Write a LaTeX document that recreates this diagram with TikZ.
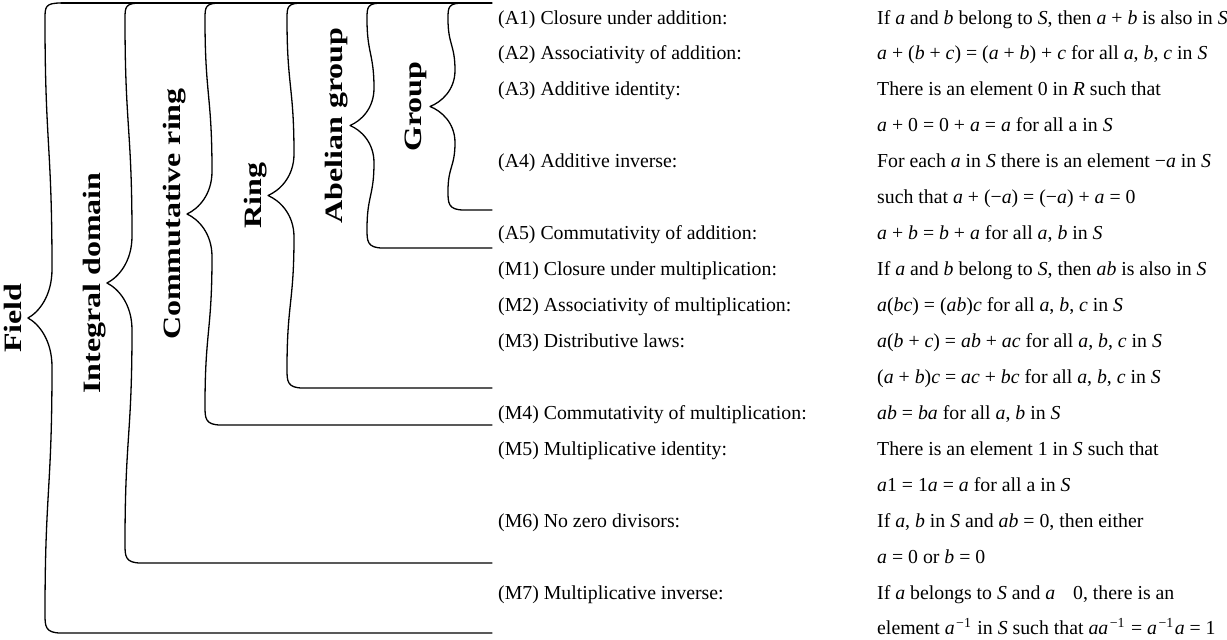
\documentclass[tikz,border=0pt]{standalone}
\usepackage{fontspec}
\setmainfont{Liberation Serif}
\usetikzlibrary{calc}

% italic variable, operator, inverse exponent
\newcommand\vi[1]{\textit{#1}}
\newcommand\op[1]{#1}
\newcommand\inv{\kern1.5pt\textsuperscript{−1}\kern1pt}
\newcommand\rowy[1]{24+35.94*#1}

% curly brace hanging from the top rule: spine x, bottom y, tip x, tip name
\newcommand\axbrace[4]{%
  \pgfmathsetmacro\bm{(3+#2)/2}%
  \pgfmathsetmacro\ba{30+0.06*(\bm-3)}%
  \pgfmathsetmacro\bq{#1+7}%
  \pgfmathsetmacro\bk{#3+0.45*(\bq-#3)}%
  \draw[bl] (#1+16,3) .. controls (#1,3) and (#1,7) .. (#1,19)
    .. controls (#1,{19+0.5*(\bm-\ba-19)}) and (\bq,{\bm-\ba-0.5*(\bm-\ba-19)}) .. (\bq,{\bm-\ba})
    .. controls (\bq,{\bm-0.45*\ba}) and (\bk,{\bm-0.12*\ba}) .. (#3,\bm) coordinate (#4)
    .. controls (\bk,{\bm+0.12*\ba}) and (\bq,{\bm+0.45*\ba}) .. (\bq,{\bm+\ba})
    .. controls (\bq,{\bm+\ba+0.5*(#2-19-\bm-\ba)}) and (#1,{#2-19-0.5*(#2-19-\bm-\ba)}) .. (#1,#2-19)
    .. controls (#1,#2-7) and (#1,#2) .. (#1+16,#2) -- (492,#2);
}

\begin{document}
\begin{tikzpicture}[x=1pt,y=-1pt,
  bl/.style={line width=1.3pt, line join=round, line cap=round},
  lab/.style={rotate=90, anchor=base, inner sep=0pt,
              font=\fontsize{25}{30}\selectfont\bfseries},
  ax/.style={anchor=base west, inner sep=0pt,
             font=\fontsize{19.8}{24}\selectfont},
]
\fill[white] (0,0) rectangle (1227,640);
\useasboundingbox (0,0) rectangle (1227,640);

% shared top rule
\draw[bl] (61,3) -- (492,3);

% nested structures
\axbrace{45}{633}{28}{tF}
\axbrace{125}{563}{107}{tI}
\axbrace{205}{425}{187}{tC}
\axbrace{287}{388}{268}{tR}
\axbrace{367}{248}{350}{tA}
\axbrace{448}{210}{430}{tG}

\node[lab] (lF) at ([xshift=-7pt]tF) {\scalebox{1.28}[1]{Field}};
\node[lab] (lI) at ([xshift=-7pt]tI) {\scalebox{1.28}[1]{Integral domain}};
\node[lab] (lC) at ([xshift=-7pt]tC) {\scalebox{1.28}[1]{Commutative ring}};
\node[lab] (lR) at ([xshift=-7pt]tR) {\scalebox{1.28}[1]{Ring}};
\node[lab] (lA) at ([xshift=-8pt]tA) {\scalebox{1.28}[1]{Abelian group}};
\node[lab] (lG) at ([xshift=-9pt]tG) {\scalebox{1.28}[1]{Group}};

% axiom names
\node[ax] (A1) at (498,{\rowy{0}})  {(A1) Closure under addition:};
\node[ax] (A2) at (498,{\rowy{1}})  {(A2) Associativity of addition:};
\node[ax] (A3) at (498,{\rowy{2}})  {(A3) Additive identity:};
\node[ax] (A4) at (498,{\rowy{4}})  {(A4) Additive inverse:};
\node[ax] (A5) at (498,{\rowy{6}})  {(A5) Commutativity of addition:};
\node[ax] (M1) at (498,{\rowy{7}})  {(M1) Closure under multiplication:};
\node[ax] (M2) at (498,{\rowy{8}})  {(M2) Associativity of multiplication:};
\node[ax] (M3) at (498,{\rowy{9}})  {(M3) Distributive laws:};
\node[ax] (M4) at (498,{\rowy{11}}) {(M4) Commutativity of multiplication:};
\node[ax] (M5) at (498,{\rowy{12}}) {(M5) Multiplicative identity:};
\node[ax] (M6) at (498,{\rowy{14}}) {(M6) No zero divisors:};
\node[ax] (M7) at (498,{\rowy{16}}) {(M7) Multiplicative inverse:};

% axiom statements
\node[ax] (r0)  at (877,{\rowy{0}})  {If \vi{a} and \vi{b} belong to \vi{S}, then \vi{a} \op{+} \vi{b} is also in \vi{S}};
\node[ax] (r1)  at (877,{\rowy{1}})  {\vi{a} \op{+} (\vi{b} \op{+} \vi{c}) \op{=} (\vi{a} \op{+} \vi{b}) \op{+} \vi{c} for all \vi{a}, \vi{b}, \vi{c} in \vi{S}};
\node[ax] (r2)  at (877,{\rowy{2}})  {There is an element 0 in \vi{R} such that};
\node[ax] (r3)  at (877,{\rowy{3}})  {\vi{a} \op{+} 0 \op{=} 0 \op{+} \vi{a} \op{=} \vi{a} for all a in \vi{S}};
\node[ax] (r4)  at (877,{\rowy{4}})  {For each \vi{a} in \vi{S} there is an element −\vi{a} in \vi{S}};
\node[ax] (r5)  at (877,{\rowy{5}})  {such that \vi{a} \op{+} (−\vi{a}) \op{=} (−\vi{a}) \op{+} \vi{a} \op{=} 0};
\node[ax] (r6)  at (877,{\rowy{6}})  {\vi{a} \op{+} \vi{b} \op{=} \vi{b} \op{+} \vi{a} for all \vi{a}, \vi{b} in \vi{S}};
\node[ax] (r7)  at (877,{\rowy{7}})  {If \vi{a} and \vi{b} belong to \vi{S}, then \vi{ab} is also in \vi{S}};
\node[ax] (r8)  at (877,{\rowy{8}})  {\vi{a}(\vi{bc}) \op{=} (\vi{ab})\vi{c} for all \vi{a}, \vi{b}, \vi{c} in \vi{S}};
\node[ax] (r9)  at (877,{\rowy{9}})  {\vi{a}(\vi{b} \op{+} \vi{c}) \op{=} \vi{ab} \op{+} \vi{ac} for all \vi{a}, \vi{b}, \vi{c} in \vi{S}};
\node[ax] (r10) at (877,{\rowy{10}}) {(\vi{a} \op{+} \vi{b})\vi{c} \op{=} \vi{ac} \op{+} \vi{bc} for all \vi{a}, \vi{b}, \vi{c} in \vi{S}};
\node[ax] (r11) at (877,{\rowy{11}}) {\vi{ab} \op{=} \vi{ba} for all \vi{a}, \vi{b} in \vi{S}};
\node[ax] (r12) at (877,{\rowy{12}}) {There is an element 1 in \vi{S} such that};
\node[ax] (r13) at (877,{\rowy{13}}) {\vi{a}1 \op{=} 1\vi{a} \op{=} \vi{a} for all a in \vi{S}};
\node[ax] (r14) at (877,{\rowy{14}}) {If \vi{a}, \vi{b} in \vi{S} and \vi{ab} \op{=} 0, then either};
\node[ax] (r15) at (877,{\rowy{15}}) {\vi{a} \op{=} 0 or \vi{b} \op{=} 0};
\node[ax] (r16) at (877,{\rowy{16}}) {If \vi{a} belongs to \vi{S} and \vi{a}\hspace{0.9em}0, there is an};
\node[ax] (r17) at (877,{\rowy{17}}) {element \vi{a}\inv{} in \vi{S} such that \vi{aa}\inv{} \op{=} \vi{a}\inv\vi{a} \op{=} 1};
\end{tikzpicture}
\end{document}
